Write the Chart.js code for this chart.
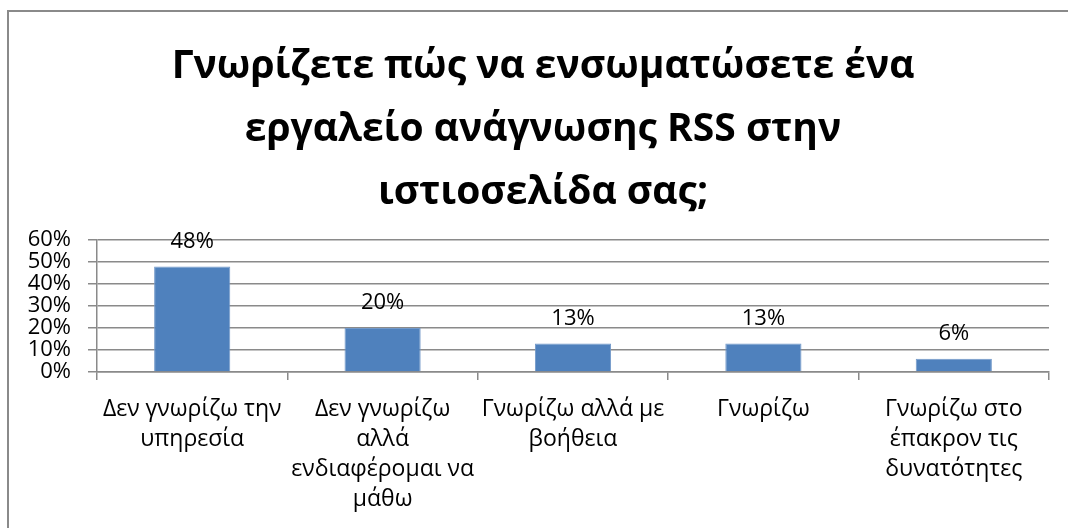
<!DOCTYPE html>
<html lang="el">
<head>
<meta charset="utf-8">
<title>Γνωρίζετε πώς να ενσωματώσετε ένα εργαλείο ανάγνωσης RSS στην ιστοσελίδα σας;</title>
<script src="https://cdn.jsdelivr.net/npm/chart.js@4/dist/chart.umd.min.js"></script>
<style>
  html, body { margin: 0; padding: 0; background: #ffffff; overflow: hidden; }
  #frame {
    position: absolute; left: 7px; top: 10px; width: 1200px; height: 700px;
    border-left: 2px solid #8a8a8a; border-top: 2px solid #8a8a8a;
  }
  #wrap { position: absolute; left: 0; top: 0; width: 1068px; height: 528px; }
</style>
</head>
<body>
<div id="frame"></div>
<div id="wrap"><canvas id="chart" width="1068" height="528"></canvas></div>
<script>
// Survey answers and their share of respondents (%)
const titleLines = [
  'Γνωρίζετε πώς να ενσωματώσετε ένα',
  'εργαλείο ανάγνωσης RSS στην',
  'ιστιοσελίδα σας;'
];
const categories = [
  ['Δεν γνωρίζω την', 'υπηρεσία'],
  ['Δεν γνωρίζω', 'αλλά', 'ενδιαφέρομαι να', 'μάθω'],
  ['Γνωρίζω αλλά με', 'βοήθεια'],
  ['Γνωρίζω'],
  ['Γνωρίζω στο', 'έπακρον τις', 'δυνατότητες']
];
const shares = [48, 20, 13, 13, 6];
const yTicks = [0, 10, 20, 30, 40, 50, 60];

const FONT = "'Open Sans', 'Noto Sans', 'DejaVu Sans', sans-serif";
const GRID = '#8a8a8a';

// Percentage written above every bar
const valueLabels = {
  id: 'valueLabels',
  afterDatasetsDraw(chart) {
    const ctx = chart.ctx;
    const meta = chart.getDatasetMeta(0);
    ctx.save();
    ctx.font = '22px ' + FONT;
    ctx.fillStyle = '#000000';
    ctx.textAlign = 'center';
    ctx.textBaseline = 'middle';
    meta.data.forEach((bar, i) => {
      const v = chart.data.datasets[0].data[i];
      ctx.fillText(v + '%', bar.x, bar.y - 25);
    });
    ctx.restore();
  }
};

// The title block is centred over the span that starts 37px in
const titleSpan = {
  id: 'titleSpan',
  afterLayout(chart) {
    if (chart.titleBlock) { chart.titleBlock.left = 37; }
  }
};

new Chart(document.getElementById('chart'), {
  type: 'bar',
  data: {
    labels: categories,
    datasets: [{
      data: shares,
      backgroundColor: '#4F81BD',
      borderColor: '#7399c9',
      borderWidth: 1,
      categoryPercentage: 1.0,
      barPercentage: 0.4
    }]
  },
  options: {
    responsive: false,
    animation: false,
    devicePixelRatio: 1,
    layout: { padding: { left: 0, right: 19, top: 0, bottom: 0 } },
    plugins: {
      legend: { display: false },
      tooltip: { enabled: false },
      title: {
        display: true,
        text: titleLines,
        color: '#000000',
        font: { family: FONT, size: 39, weight: 'bold', lineHeight: '63px' },
        padding: { top: 35, bottom: 16 }
      }
    },
    scales: {
      x: {
        grid: {
          display: true,
          drawOnChartArea: false,
          drawTicks: true,
          tickLength: 8,
          color: GRID,
          lineWidth: 1.5,
          offset: true
        },
        border: { display: true, color: GRID, width: 1.5 },
        ticks: {
          color: '#000000',
          font: { family: FONT, size: 23, lineHeight: '30px' },
          maxRotation: 0,
          minRotation: 0,
          autoSkip: false,
          padding: 14
        },
        afterFit(scale) { scale.height = 156; }
      },
      y: {
        min: yTicks[0],
        max: yTicks[yTicks.length - 1],
        grid: {
          color: GRID,
          lineWidth: 1.5,
          tickLength: 9,
          drawTicks: true
        },
        border: { display: true, color: GRID, width: 1.5 },
        afterBuildTicks(scale) { scale.ticks = yTicks.map(v => ({ value: v })); },
        ticks: {
          color: '#000000',
          font: { family: FONT, size: 22, lineHeight: 1 },
          padding: 17,
          autoSkip: false,
          callback: (v) => v + '%'
        },
        afterFit(scale) { scale.width = 97; }
      }
    }
  },
  plugins: [valueLabels, titleSpan]
});
</script>
</body>
</html>
